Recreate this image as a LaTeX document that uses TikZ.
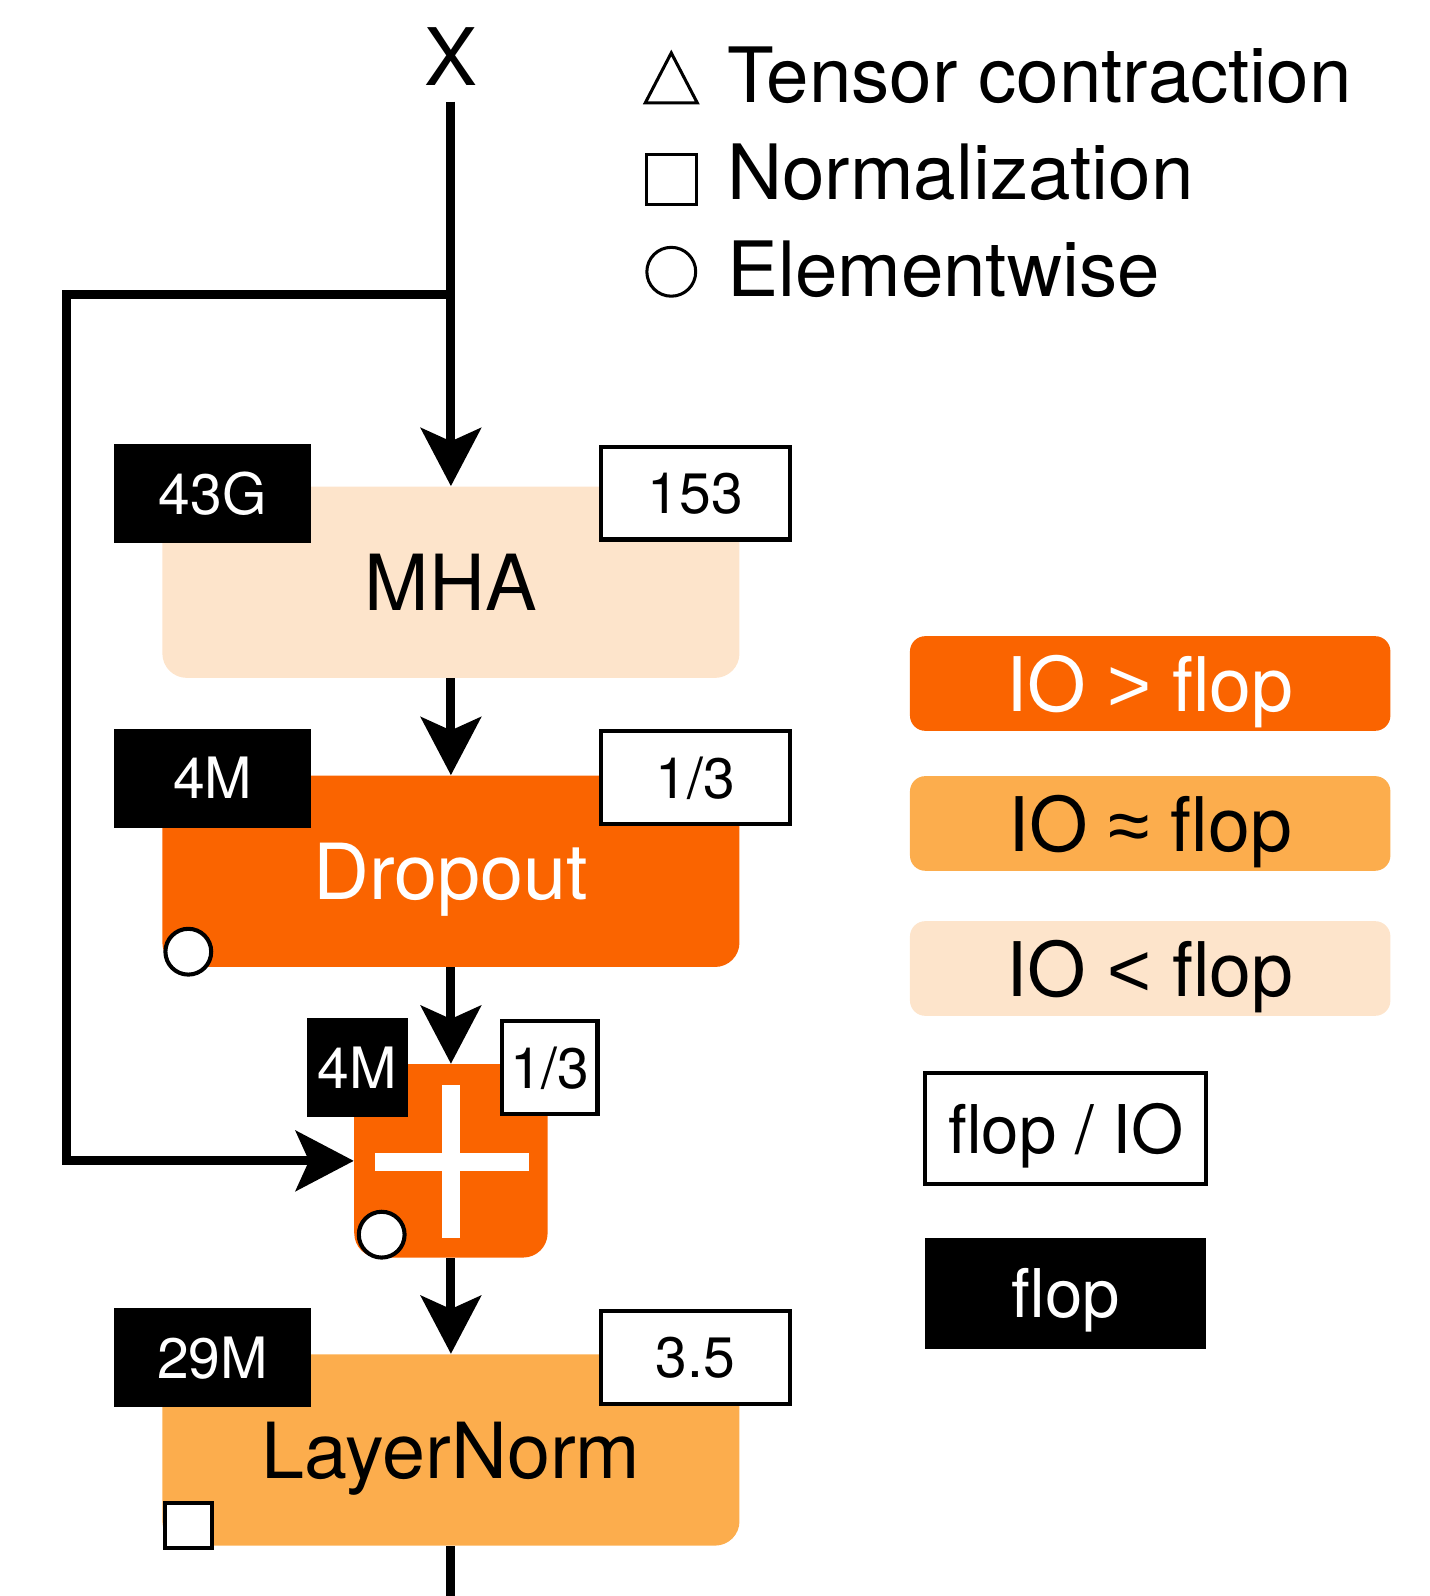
\documentclass[tikz,border=0pt]{standalone}
\usepackage{fontspec}
\setmainfont{TeX Gyre Heros}
\newfontfamily\relfont{Liberation Sans}
\usetikzlibrary{arrows.meta}

\definecolor{ioHigh}{HTML}{FA6400}
\definecolor{ioMid}{HTML}{FCAD4D}
\definecolor{ioLow}{HTML}{FDE4CB}

\begin{document}
\begin{tikzpicture}[x=0.5pt,y=-0.5pt,
  flow/.style={line width=4.5pt,-{Stealth[length=28.5pt,width=29.5pt,inset=6.5pt]}},
  wire/.style={line width=4.5pt},
  opbox/.style={rectangle,rounded corners=12pt,minimum width=283.5pt,minimum height=94pt,
    inner sep=0pt,font=\fontsize{38}{41}\selectfont,text depth=0pt},
  flopbox/.style={rectangle,fill=black,text=white,minimum width=97pt,minimum height=48.5pt,
    inner sep=0pt,font=\fontsize{28}{30}\selectfont,text depth=0pt},
  ratiobox/.style={rectangle,draw=black,line width=2pt,fill=white,minimum width=93pt,
    minimum height=45.5pt,inner sep=0pt,font=\fontsize{28}{30}\selectfont,text depth=0pt},
  ewmark/.style={circle,draw=black,fill=white,line width=2pt,minimum size=22.5pt,inner sep=0pt},
  normmark/.style={rectangle,draw=black,fill=white,line width=2pt,minimum width=23pt,
    minimum height=22pt,inner sep=0pt},
  keybox/.style={rectangle,rounded corners=7.5pt,minimum width=236pt,minimum height=46.5pt,
    inner sep=0pt,font=\fontsize{37}{40}\selectfont,text depth=0pt},
  keytext/.style={anchor=west,inner sep=0pt,font=\fontsize{37.5}{40}\selectfont,text depth=0pt},
]
\useasboundingbox (0,0) rectangle (1404,1568);

% input label
\node[inner sep=7.5pt,font=\fontsize{39}{42}\selectfont,text depth=0pt] (X) at (443,56) {X};

% operator boxes
\node[opbox,fill=ioLow] (MHA) at (443,572) {MHA};
\node[opbox,fill=ioHigh,text=white] (drop) at (443,856) {Dropout};
\node[rectangle,rounded corners=12pt,fill=ioHigh,minimum width=95pt,minimum height=95pt,
  inner sep=0pt] (plus) at (443,1140.5) {};
\node[opbox,fill=ioMid] (LN) at (443,1424.5) {LayerNorm};

% plus sign
\fill[white] (434,1066) rectangle (452,1216);
\fill[white] (368,1133) rectangle (520,1150);

% flop counts
\node[flopbox] (mhaF) at (209,484.5) {43G};
\node[flopbox] (dropF) at (209,764.5) {4M};
\node[flopbox,minimum width=49.5pt] (plusF) at (351,1048.5) {4M};
\node[flopbox] (lnF) at (209,1333.5) {29M};

% flop / IO ratios
\node[ratiobox] (mhaR) at (683,484.5) {153};
\node[ratiobox] (dropR) at (683,764) {1/3};
\node[ratiobox,minimum width=47pt] (plusR) at (540,1048.5) {1/3};
\node[ratiobox] (lnR) at (683,1333.5) {3.5};

% operator kind marks
\node[ewmark] (dropEw) at (185,935) {};
\node[ewmark] (plusEw) at (375,1213) {};
\node[normmark] (lnNorm) at (185,1499) {};

% main data path
\coordinate (split) at (443,289);
\coordinate (loopTop) at (65,289);
\coordinate (loopBot) at (65,1140.5);
\coordinate (out) at (443,1568);
\draw[flow] (X.south) -- (MHA.north);
\draw[flow] (split) -- (loopTop) -- (loopBot) -- (plus.west);
\draw[flow] (MHA.south) -- (drop.north);
\draw[flow] (drop.south) -- (plus.north);
\draw[flow] (plus.south) -- (LN.north);
\draw[wire] (LN.south) -- (out);

% legend: operator kinds
\draw[line width=1.5pt] (634,101) -- (685,101) -- (659.5,52) -- cycle;
\draw[line width=1.5pt] (635,152) rectangle (684,201);
\draw[line width=1.5pt] (659.5,267) circle (12pt);
\node[keytext] (kTensor) at (714,73.5) {Tensor contraction};
\node[keytext] (kNorm) at (714,168.5) {Normalization};
\node[keytext] (kElem) at (714,263.5) {Elementwise};

% legend: intensity colours and boxes
\node[keybox,fill=ioHigh,text=white] (kHigh) at (1130,671.5) {IO {\relfont>} flop};
\node[keybox,fill=ioMid] (kMid) at (1130,809) {IO {\relfont≈} flop};
\node[keybox,fill=ioLow] (kLow) at (1130,951.5) {IO {\relfont<} flop};
\node[rectangle,draw=black,line width=2pt,minimum width=138pt,minimum height=54.5pt,
  inner sep=0pt,font=\fontsize{33}{36}\selectfont,text depth=0pt] (kRatio) at (1047,1108.5) {flop / IO};
\node[rectangle,fill=black,text=white,minimum width=138pt,minimum height=54.5pt,
  inner sep=0pt,font=\fontsize{33}{36}\selectfont,text depth=0pt] (kFlop) at (1047,1270.5) {flop};
\end{tikzpicture}
\end{document}
